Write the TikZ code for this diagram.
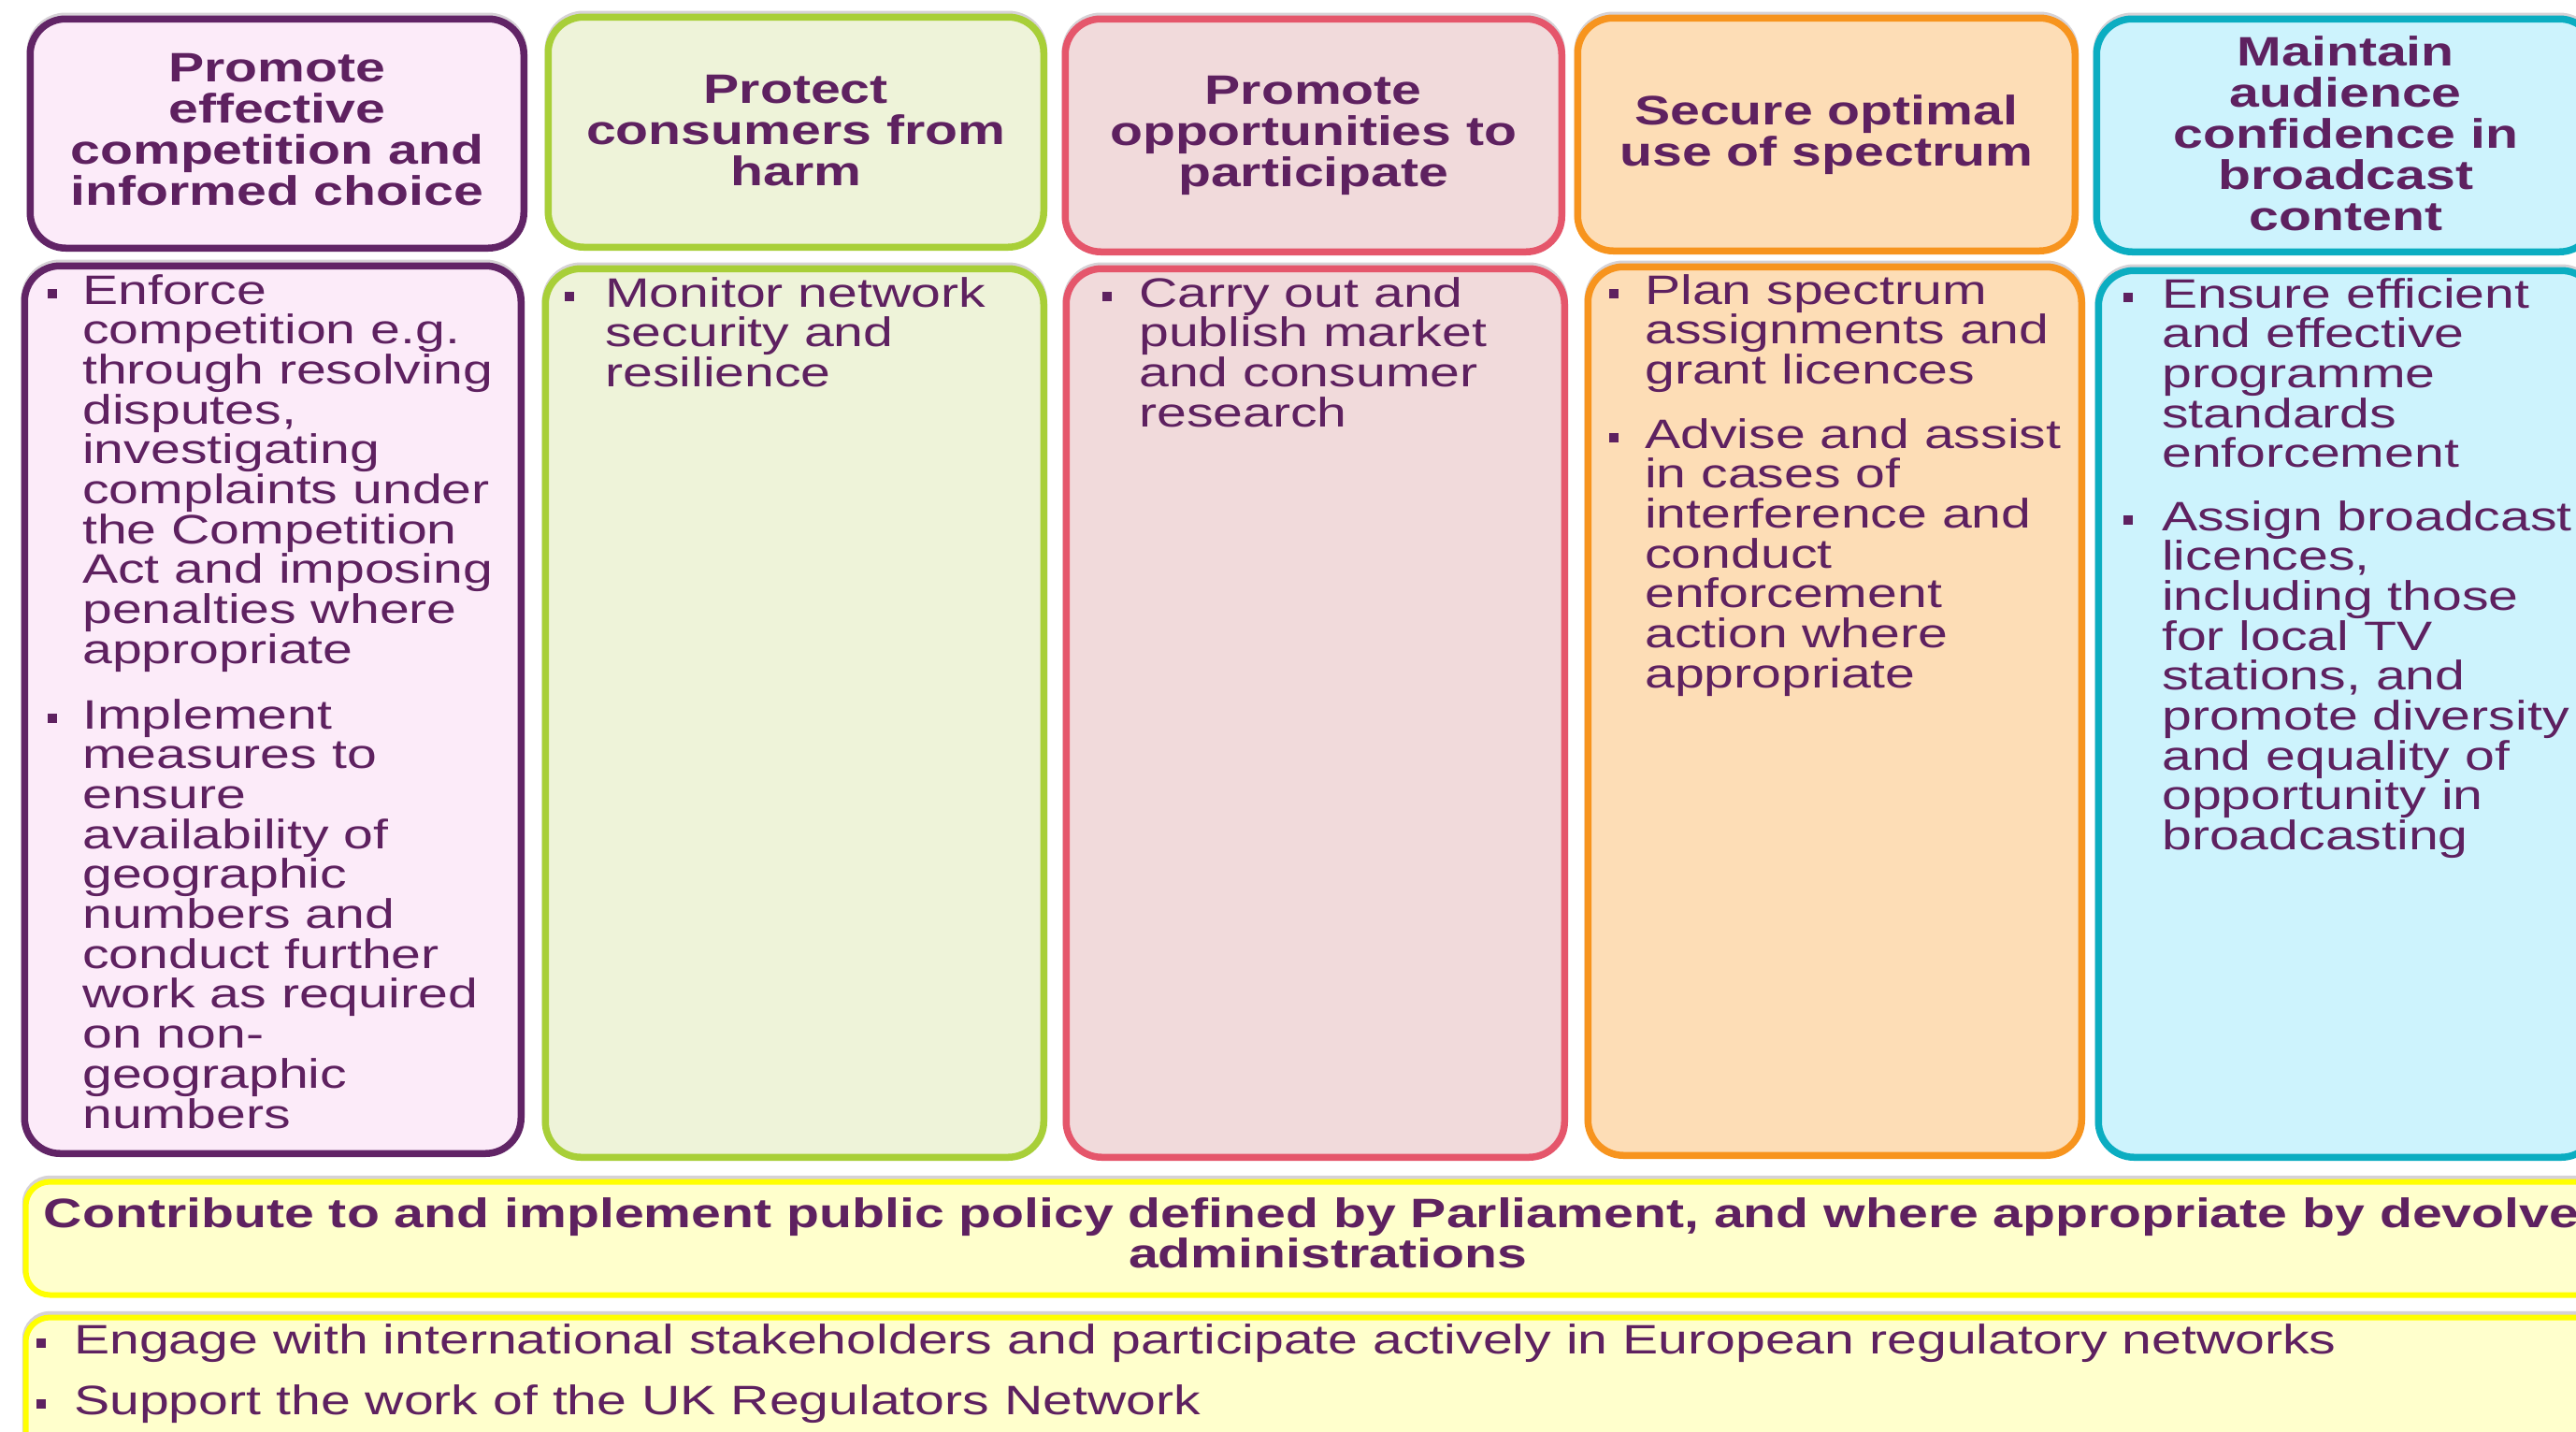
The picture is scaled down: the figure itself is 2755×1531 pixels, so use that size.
\documentclass[tikz,border=0pt]{standalone}
\usepackage{fontspec}
\newfontfamily\wf[FakeStretch=1.3]{Liberation Sans}
\definecolor{txtc}{HTML}{5E2160}
\definecolor{pur}{HTML}{612466}
\definecolor{purf}{HTML}{FCEBF9}
\definecolor{grn}{HTML}{A8CF38}
\definecolor{grnf}{HTML}{EEF3D9}
\definecolor{rd}{HTML}{E5566B}
\definecolor{rdf}{HTML}{F1DADB}
\definecolor{org}{HTML}{F7941E}
\definecolor{orgf}{HTML}{FDDDB6}
\definecolor{tea}{HTML}{0BADC1}
\definecolor{teaf}{HTML}{CDF3FD}
\definecolor{yel}{HTML}{FFFF00}
\definecolor{yelf}{HTML}{FFFFCC}
\definecolor{shd}{HTML}{D6D2D6}
\newcommand\bodytext[1]{\parbox[t]{700pt}{\raggedright\wf\fontsize{44}{42.7}\selectfont #1}}
\begin{document}
\begin{tikzpicture}[x=1pt,y=-1pt,
  panel/.style={draw, line width=7.5pt, rounded corners=38pt, anchor=north west, inner sep=0pt,
    preaction={draw=shd, line width=7.5pt, transform canvas={yshift=3pt}}},
  htext/.style={align=center, text=txtc, inner sep=0pt, font=\wf\bfseries\fontsize{44}{44}\selectfont},
  btext/.style={anchor=base west, inner sep=0pt, text=txtc},
  bul/.style={fill=txtc, minimum size=10pt, inner sep=0pt}]
\useasboundingbox (0,0) rectangle (2755,1531);
\clip (0,0) rectangle (2755,1531);
\fill[white] (0,0) rectangle (2755,1531);
% header boxes
\node[panel, draw=pur, fill=purf, minimum width=528pt, minimum height=245pt] (h1) at (28.5,16.5) {};
\node[panel, draw=grn, fill=grnf, minimum width=530pt, minimum height=246pt] (h2) at (582.5,14.5) {};
\node[panel, draw=rd, fill=rdf, minimum width=531pt, minimum height=249pt] (h3) at (1135.5,16.5) {};
\node[panel, draw=org, fill=orgf, minimum width=532pt, minimum height=249pt] (h4) at (1683.5,15.5) {};
\node[panel, draw=tea, fill=teaf, minimum width=533pt, minimum height=249pt] (h5) at (2238.5,16.5) {};
% body boxes
\node[panel, draw=pur, fill=purf, minimum width=531pt, minimum height=949pt] (b1) at (22.5,280.5) {};
\node[panel, draw=grn, fill=grnf, minimum width=533pt, minimum height=950pt] (b2) at (579.5,283.5) {};
\node[panel, draw=rd, fill=rdf, minimum width=533pt, minimum height=950pt] (b3) at (1136.5,283.5) {};
\node[panel, draw=org, fill=orgf, minimum width=528pt, minimum height=950pt] (b4) at (1694.5,281.5) {};
\node[panel, draw=tea, fill=teaf, minimum width=533pt, minimum height=948pt] (b5) at (2240.5,285.5) {};
% bottom boxes
\node[panel, draw=yel, fill=yelf, line width=6pt, rounded corners=26pt, minimum width=2800pt, minimum height=121pt] (ba) at (24.5,1260.5) {};
\node[panel, draw=yel, fill=yelf, line width=6pt, rounded corners=26pt, minimum width=2800pt, minimum height=200pt] (bb) at (24.5,1405.5) {};
% header texts
\node[htext] (t1) at ([yshift=4pt]h1.center) {Promote\\effective\\competition and\\informed choice};
\node[htext] (t2) at ([yshift=2pt]h2.center) {Protect\\consumers from\\harm};
\node[htext] (t3) at (h3.center) {Promote\\opportunities to\\participate};
\node[htext] (t4) at (h4.center) {Secure optimal\\use of spectrum};
\node[htext] (t5) at ([yshift=2pt]h5.center) {Maintain\\audience\\confidence in\\broadcast\\content};
% body texts
\node[bul] (u1a) at (56,314) {};
\node[btext] (p1a) at (88,325) {\bodytext{Enforce\\competition e.g.\\through resolving\\disputes,\\investigating\\complaints under\\the Competition\\Act and imposing\\penalties where\\appropriate}};
\node[bul] (u1b) at (56,768) {};
\node[btext] (p1b) at (88,779) {\bodytext{Implement\\measures to\\ensure\\availability of\\geographic\\numbers and\\conduct further\\work as required\\on non-\\geographic\\numbers}};
\node[bul] (u2a) at (609,317) {};
\node[btext] (p2a) at (647,328) {\bodytext{Monitor network\\security and\\resilience}};
\node[bul] (u3a) at (1184,317) {};
\node[btext] (p3a) at (1218,328) {\bodytext{Carry out and\\publish market\\and consumer\\research}};
\node[bul] (u4a) at (1726,314) {};
\node[btext] (p4a) at (1759,325) {\bodytext{Plan spectrum\\assignments and\\grant licences}};
\node[bul] (u4b) at (1726,468) {};
\node[btext] (p4b) at (1759,479) {\bodytext{Advise and assist\\in cases of\\interference and\\conduct\\enforcement\\action where\\appropriate}};
\node[bul] (u5a) at (2276,318) {};
\node[btext] (p5a) at (2312,329) {\bodytext{Ensure efficient\\and effective\\programme\\standards\\enforcement}};
\node[bul] (u5b) at (2276,556) {};
\node[btext] (p5b) at (2312,567) {\bodytext{Assign broadcast\\licences,\\including those\\for local TV\\stations, and\\promote diversity\\and equality of\\opportunity in\\broadcasting}};
% bottom texts
\node[anchor=base, inner sep=0pt, text=txtc] (pa) at (1420,1312) {\parbox[t]{3200pt}{\centering\wf\bfseries\fontsize{44}{43}\selectfont Contribute to and implement public policy defined by Parliament, and where appropriate by devolved\\administrations}};
\node[bul] (uba) at (44,1436) {};
\node[btext, font=\wf\fontsize{44}{44}\selectfont] (pb1) at (79,1447) {Engage with international stakeholders and participate actively in European regulatory networks};
\node[bul] (ubb) at (44,1501) {};
\node[btext, font=\wf\fontsize{44}{44}\selectfont] (pb2) at (79,1512) {Support the work of the UK Regulators Network};
\end{tikzpicture}
\end{document}
